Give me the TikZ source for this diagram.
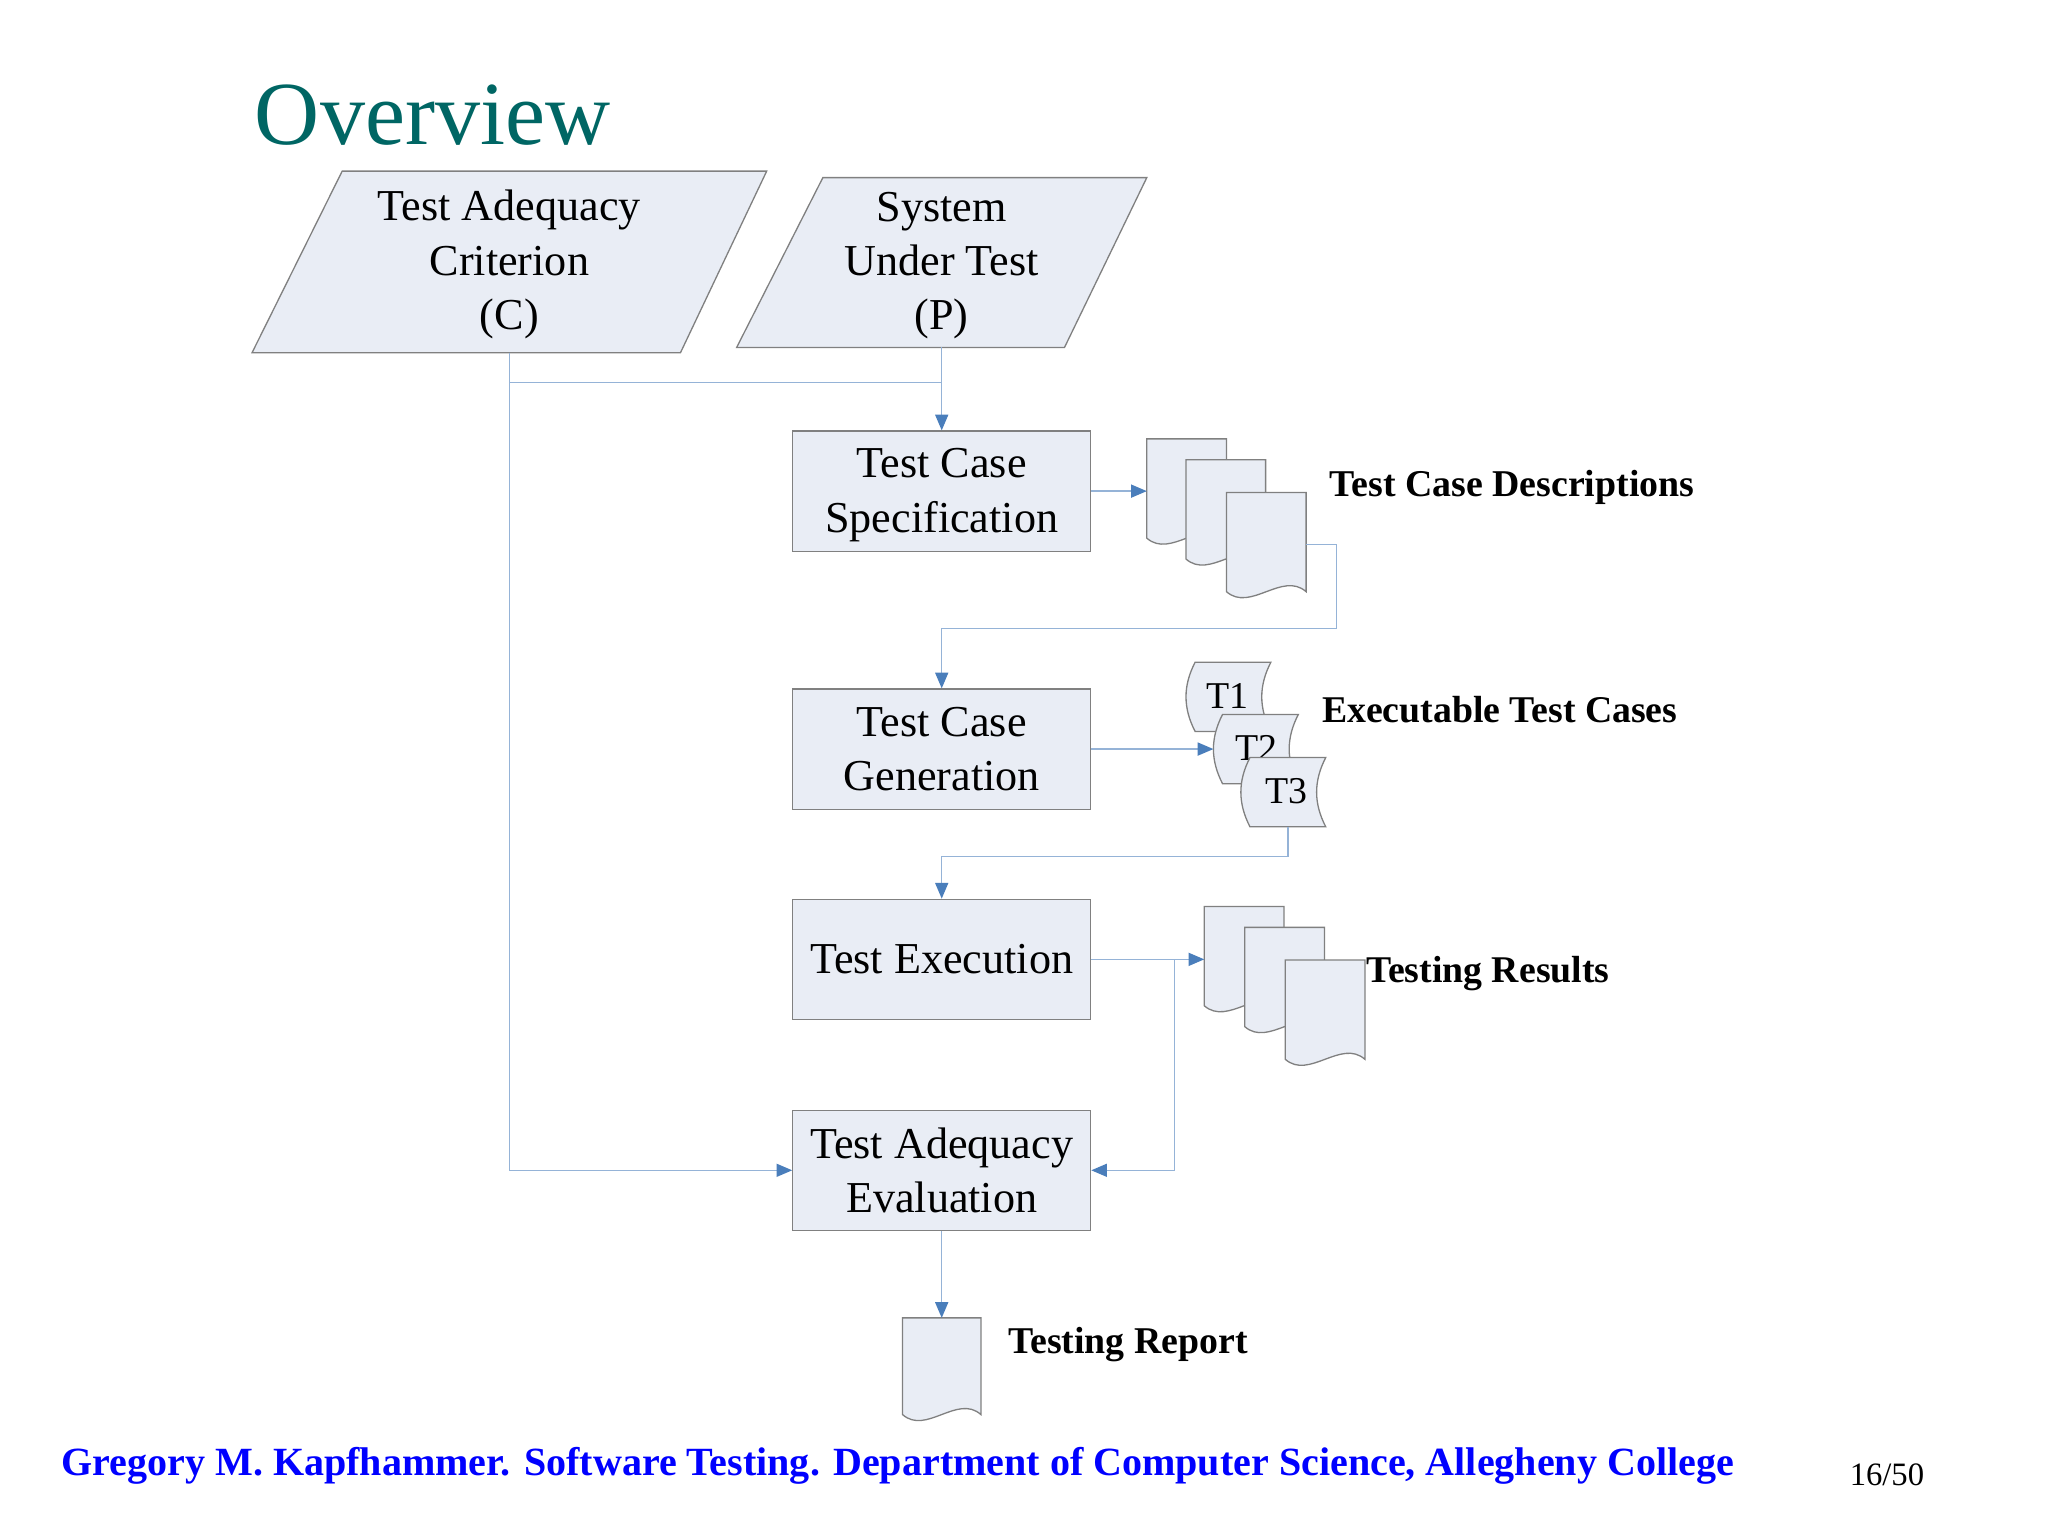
\documentclass[tikz,border=0pt]{standalone}
\usepackage{fontspec}
\setmainfont{Liberation Serif}
\usetikzlibrary{arrows.meta}
\definecolor{titlecol}{RGB}{0,102,100}
\definecolor{boxfill}{RGB}{233,237,245}
\definecolor{bordercol}{RGB}{128,128,128}
\definecolor{linecol}{RGB}{149,179,215}
\definecolor{arrowcol}{RGB}{74,126,187}
\definecolor{footblue}{RGB}{0,0,255}
\newcommand{\docshape}[4]{% x y w h
  \filldraw[shapestyle] (#1,#2) -- ++(#3,0) -- ++(0,#4)
    .. controls ++(-0.3*#3,-16) and ++(0.3*#3,16) .. ++(-#3,0) -- cycle;}
\newcommand{\tapeshape}[2]{% x y (top-left)
  \filldraw[shapestyle] (#1,#2) -- ++(58,0)
    .. controls ++(-9.3,18) and ++(-9.3,-18) .. ++(0,53) -- ++(-58,0)
    .. controls ++(-9.3,-18) and ++(-9.3,18) .. ++(0,-53) -- cycle;}
\begin{document}
\begin{tikzpicture}[x=1pt,y=-1pt,
  shapestyle/.style={draw=bordercol, fill=boxfill, line width=1pt},
  box/.style={shapestyle, minimum width=228pt, minimum height=92pt, inner sep=0pt,
    align=center, font=\fontsize{33.8}{41.5}\selectfont},
  ptext/.style={inner sep=0pt, align=center, font=\fontsize{33.8}{41.5}\selectfont},
  ttext/.style={inner sep=0pt, font=\fontsize{29}{32}\selectfont},
  conn/.style={draw=linecol, line width=1pt},
  arr/.style={conn, -{Triangle[length=12pt,width=10pt,color=arrowcol,fill=arrowcol]}},
  lbl/.style={anchor=base west, inner sep=0pt, font=\bfseries}]
\useasboundingbox[fill=white] (0,0) rectangle (1568,1176);

% title
\node[anchor=base west, inner sep=0pt, text=titlecol, font=\fontsize{69}{80}\selectfont] (title) at (195,111) {Overview};

% parallelograms
\filldraw[shapestyle] (262,131) -- (587,131) -- (521,270) -- (193,270) -- cycle;
\node[ptext] (crit) at (390,202.5) {Test Adequacy\\Criterion\\(C)};
\filldraw[shapestyle] (630,136) -- (878,136) -- (815,266) -- (564,266) -- cycle;
\node[ptext] (sut) at (721,203.5) {System\\Under Test\\(P)};
\coordinate (Cb) at (390,270);
\coordinate (Pb) at (721,266);

% process boxes
\node[box] (spec) at (721,376) {};
\node[ptext] (spectext) at (721,379) {Test Case\\Specification};
\node[box] (gen) at (721,573.5) {Test Case\\Generation};
\node[box] (exec) at (721,734.5) {Test Execution};
\node[box] (eval) at (721,896) {Test Adequacy\\Evaluation};

% test case descriptions stack
\docshape{878}{336}{61}{76}
\docshape{908}{352}{61}{76}
\docshape{939}{377}{61}{76}
\coordinate (d1in) at (878,376);
\coordinate (d1out) at (1000,417);
\node[lbl] (lab1) at (1018,380) {\resizebox{279pt}{!}{Test Case Descriptions}};

% executable test cases
\tapeshape{915}{507}
\node[ttext] (t1) at (940,533) {T1};
\tapeshape{936}{547}
\node[ttext] (t2) at (962,573) {T2};
\tapeshape{957}{580}
\node[ttext] (t3) at (985,606) {T3};
\coordinate (t2in) at (929,573.5);
\coordinate (t3b) at (986,633);
\node[lbl] (lab2) at (1012,553) {\resizebox{272pt}{!}{Executable Test Cases}};

% testing results stack
\docshape{922}{694}{61}{76}
\docshape{953}{710}{61}{76}
\docshape{984}{735}{61}{76}
\coordinate (d2in) at (922,734.5);
\node[lbl] (lab3) at (1046,752) {\resizebox{186pt}{!}{Testing Results}};

% testing report
\docshape{691}{1009}{60}{74}
\coordinate (rep) at (721,1009);
\node[lbl] (lab4) at (772,1036) {\resizebox{183pt}{!}{Testing Report}};

% connectors
\coordinate (j1) at (721,293);
\coordinate (j2) at (1023,481);
\coordinate (j3) at (986,656);
\coordinate (j4) at (899,734.5);
\draw[conn] (Cb) |- (j1);
\draw[arr] (Pb) -- (spec.north);
\draw[arr] (Cb) |- (eval.west);
\draw[arr] (spec.east) -- (d1in);
\draw[arr] (d1out) -| (j2) -| (gen.north);
\draw[arr] (gen.east) -- (t2in);
\draw[arr] (t3b) -- (j3) -| (exec.north);
\draw[arr] (exec.east) -- (d2in);
\draw[arr] (j4) |- (eval.east);
\draw[arr] (eval.south) -- (rep);

% footer
\node[anchor=base west, inner sep=0pt, text=footblue, font=\bfseries] (footer) at (47,1130)
  {\resizebox{1280pt}{!}{Gregory M. Kapfhammer. Software Testing. Department of Computer Science, Allegheny College}};
\node[anchor=base west, inner sep=0pt, font=\fontsize{25}{28}\selectfont] (page) at (1416,1137) {16/50};
\end{tikzpicture}
\end{document}
